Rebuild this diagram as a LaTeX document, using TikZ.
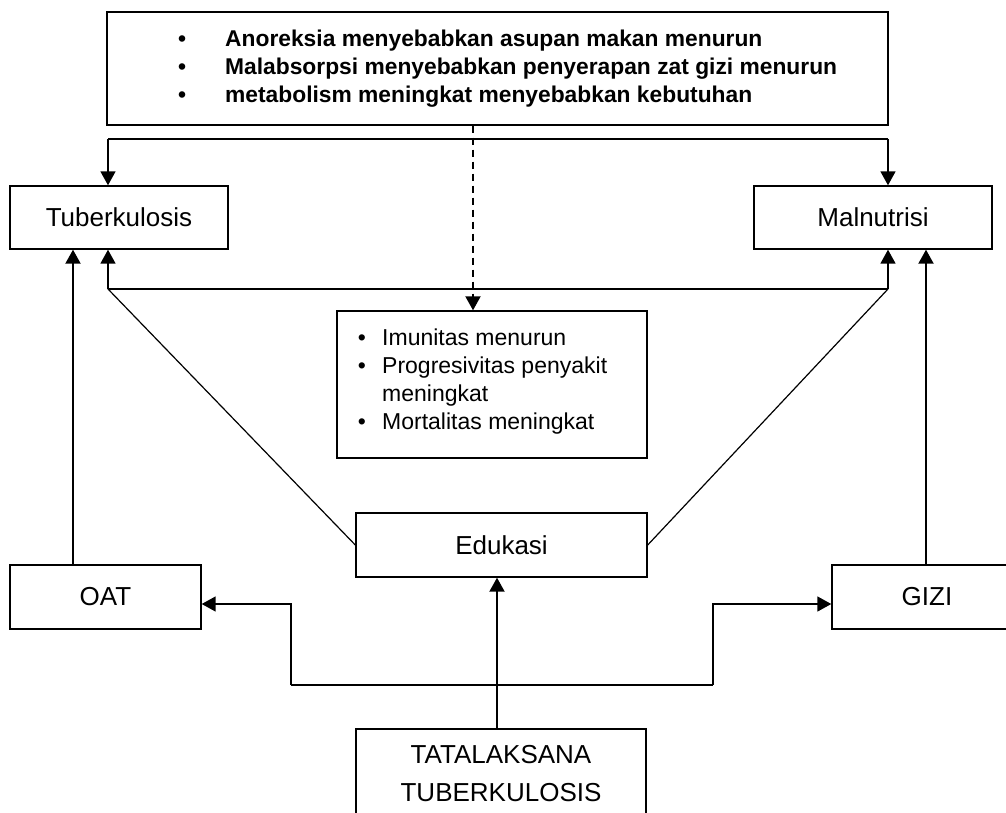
\documentclass[tikz,border=0pt]{standalone}
\usepackage{fontspec}
\setmainfont{Liberation Sans}
\usetikzlibrary{arrows.meta}
\begin{document}
\begin{tikzpicture}[x=1pt,y=-1pt,
  box/.style={draw,line width=1.4pt,inner sep=0pt,align=center},
  lbl/.style={font=\fontsize{26}{38}\selectfont},
  conn/.style={line width=1.6pt},
  arr/.style={conn,-{Triangle[width=15pt,length=14pt]}},
  toptxt/.style={anchor=base west,inner sep=0pt,font=\fontsize{22.8}{28}\selectfont\bfseries},
  midtxt/.style={anchor=base west,inner sep=0pt,font=\fontsize{23}{28}\selectfont},
]
\useasboundingbox (0,0) rectangle (1006,813);

% boxes
\node[box,minimum width=781pt,minimum height=113pt] (top) at (497.5,68.5) {};
\node[box,lbl,minimum width=218pt,minimum height=63pt] (tb) at (119,217.5) {Tuberkulosis};
\node[box,lbl,minimum width=238pt,minimum height=63pt] (mn) at (873,217.5) {Malnutrisi};
\node[box,minimum width=310pt,minimum height=147pt] (mid) at (492,384.5) {};
\node[box,lbl,minimum width=291pt,minimum height=64pt] (ed) at (501.5,545) {Edukasi};
\node[box,lbl,minimum width=191pt,minimum height=64pt] (oat) at (105.5,597) {OAT};
\node[box,lbl,minimum width=190pt,minimum height=64pt] (gz) at (927,597) {GIZI};
\node[box,lbl,minimum width=290pt,minimum height=90pt] (tt) at (501,774) {TATALAKSANA\\TUBERKULOSIS};

% top box text
\node[toptxt,anchor=base] (tb1) at (182,47) {•};
\node[toptxt,anchor=base] (tb2) at (182,75) {•};
\node[toptxt,anchor=base] (tb3) at (182,103) {•};
\node[toptxt] (tt1) at (225,47) {Anoreksia menyebabkan asupan makan menurun};
\node[toptxt] (tt2) at (225,75) {Malabsorpsi menyebabkan penyerapan zat gizi menurun};
\node[toptxt] (tt3) at (225,103) {metabolism meningkat menyebabkan kebutuhan};

% middle box text
\node[midtxt,anchor=base] (mb1) at (362,345) {•};
\node[midtxt,anchor=base] (mb2) at (362,373) {•};
\node[midtxt,anchor=base] (mb3) at (362,429) {•};
\node[midtxt] (mt1) at (382,345) {Imunitas menurun};
\node[midtxt] (mt2) at (382,373) {Progresivitas penyakit};
\node[midtxt] (mt2b) at (382,401) {meningkat};
\node[midtxt] (mt3) at (382,429) {Mortalitas meningkat};

% top distribution line
\coordinate (tl) at (108,139);
\coordinate (tr) at (888,139);
\draw[conn] (tl) -- (tr);
\draw[arr] (tl) -- (tl |- tb.north);
\draw[arr] (tr) -- (tr |- mn.north);

% dashed arrow
\coordinate (dx) at (473,0);
\draw[arr,line width=2pt,dash pattern=on 7pt off 5pt] (top.south -| dx) -- (dx |- mid.north);

% lower line
\coordinate (bl) at (108,289);
\coordinate (br) at (888,289);
\draw[conn] (bl) -- (br);
\draw[arr] (bl) -- (bl |- tb.south);
\draw[arr] (br) -- (br |- mn.south);
\draw[line width=1.2pt] (bl) -- (ed.west);
\draw[line width=1.2pt] (br) -- (ed.east);

% OAT and GIZI up arrows
\coordinate (ox) at (73,0);
\coordinate (gx) at (926,0);
\draw[arr,line width=2pt] (oat.north -| ox) -- (ox |- tb.south);
\draw[arr,line width=2pt] (gz.north -| gx) -- (gx |- mn.south);

% tatalaksana
\coordinate (tx) at (497,0);
\draw[arr,line width=2pt] (tt.north -| tx) -- (tx |- ed.south);
\coordinate (hl) at (291,685);
\coordinate (hr) at (713,685);
\draw[conn] (hl) -- (hr);
\coordinate (ol) at (291,604);
\coordinate (gr) at (713,604);
\draw[arr] (hl) -- (ol) -- (ol -| oat.east);
\draw[arr] (hr) -- (gr) -- (gr -| gz.west);
\end{tikzpicture}
\end{document}
